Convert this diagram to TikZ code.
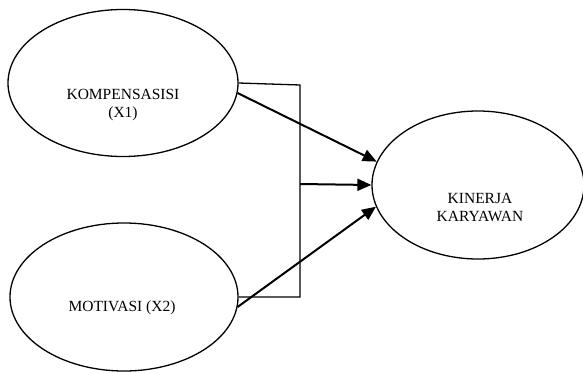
\documentclass[tikz,border=0pt]{standalone}
\usepackage{fontspec}
\setmainfont{Liberation Serif}
\usetikzlibrary{shapes.geometric,arrows.meta}
\begin{document}
\begin{tikzpicture}[x=1pt,y=-1pt,
  oval/.style={draw,ellipse,line width=1.3pt,inner sep=0pt},
  lbl/.style={align=center,font=\fontsize{15.5}{18}\selectfont,inner sep=0pt},
  boxline/.style={line width=1.3pt},
  arr/.style={line width=2pt,-{Triangle[length=14pt,width=12pt]}}]
\useasboundingbox (0,0) rectangle (583,372);
\node[oval,minimum width=230pt,minimum height=147pt] (e1) at (123,83) {};
\node[oval,minimum width=228pt,minimum height=148pt] (e2) at (124,297) {};
\node[oval,minimum width=212pt,minimum height=148pt] (e3) at (478,185) {};
\node[lbl] (t1) at (123,105) {KOMPENSASISI\\(X1)};
\node[lbl] (t2) at (122,308) {MOTIVASI (X2)};
\node[lbl] (t3) at (480,207) {KINERJA\\KARYAWAN};
\coordinate (tr) at (300,85);
\coordinate (br) at (300,297);
\coordinate (mid) at (300,184);
\draw[boxline] (e1.east) -- (tr) -- (br) -- (e2.east);
\draw[arr] (mid) -- (e3.west);
\draw[arr] (e1.-5) -- (e3.167);
\draw[arr] (e2.-5) -- (e3.192);
\end{tikzpicture}
\end{document}
